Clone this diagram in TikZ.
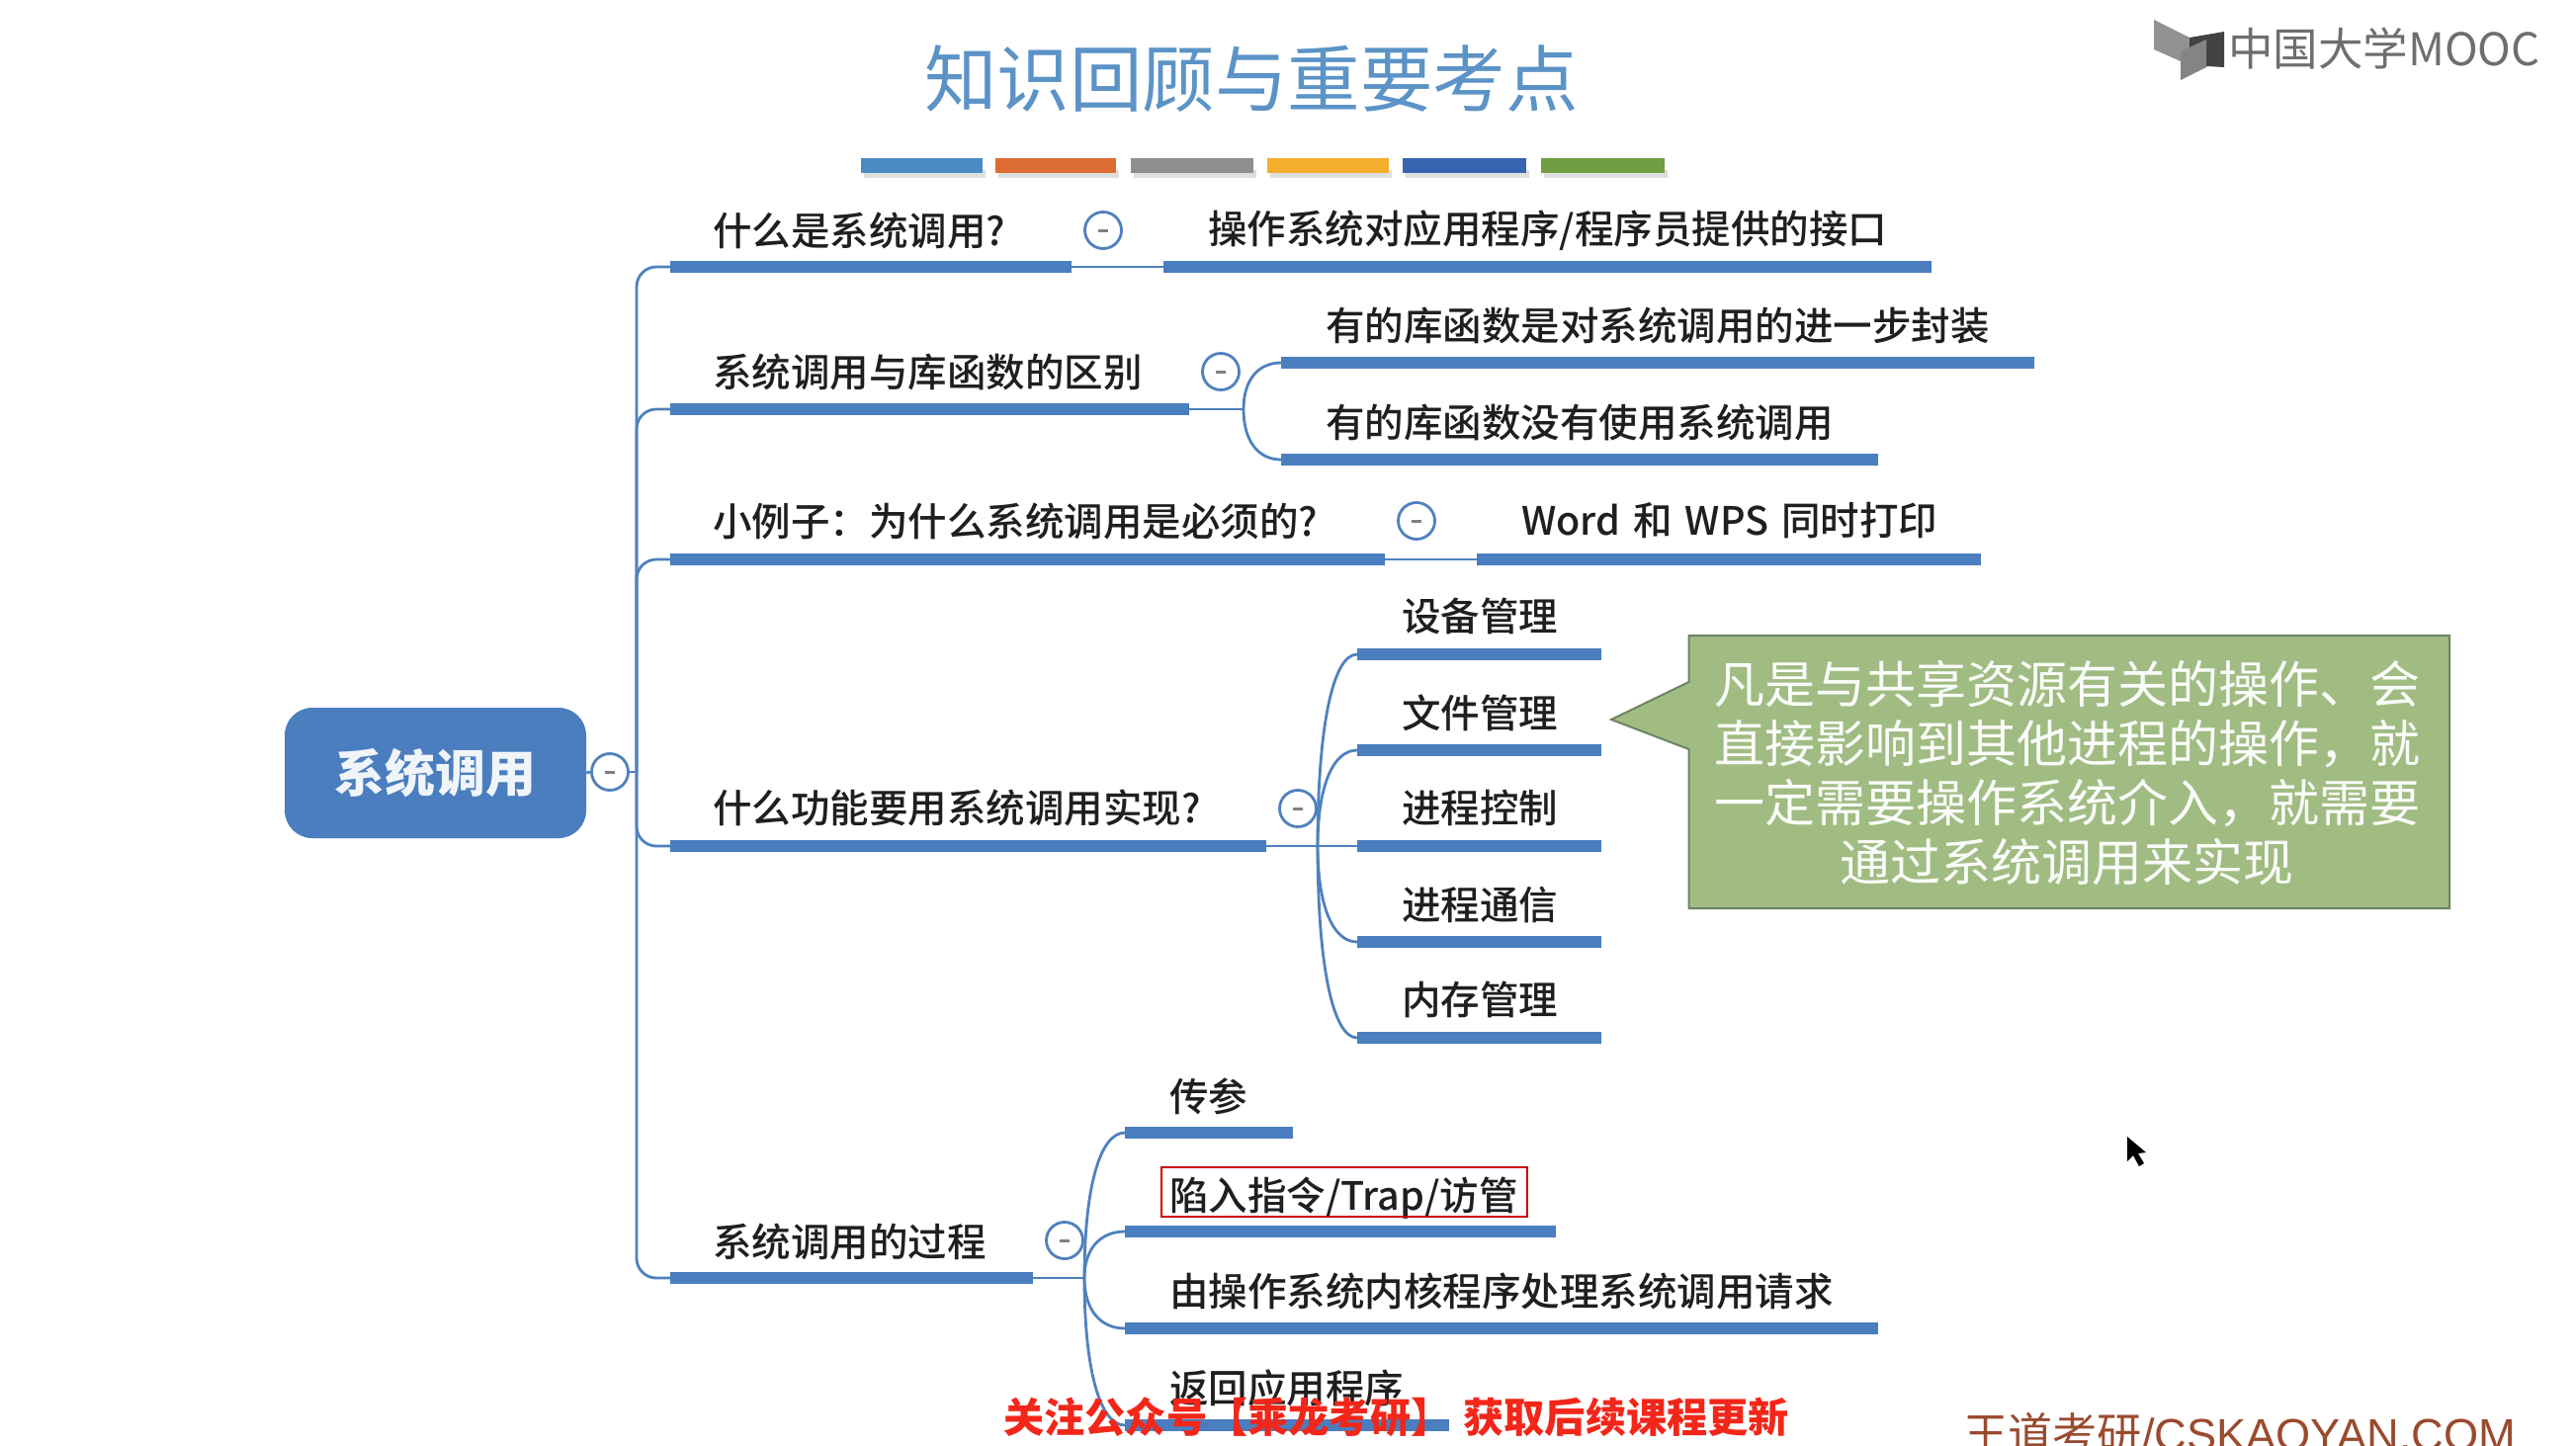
\documentclass[tikz,border=0pt]{standalone}
\usepackage{fontspec}
\usetikzlibrary{calc}
\setmainfont{Noto Sans CJK SC}
\newfontfamily\medfont{Noto Sans CJK SC Medium}
\newfontfamily\wmfont{Liberation Sans}
\definecolor{mapblue}{HTML}{4F81BD}
\definecolor{barblue}{HTML}{4A7EBF}
\definecolor{titleblue}{HTML}{5B93C7}
\definecolor{calloutgreen}{HTML}{A0BC82}
\definecolor{calloutedge}{HTML}{6C8560}
\definecolor{wmbrown}{HTML}{9A4A2E}
\definecolor{wmred}{HTML}{F3261A}
\definecolor{logogrey}{HTML}{6E6E6E}
\definecolor{st1}{HTML}{4A8BC6}
\definecolor{st2}{HTML}{DD6D32}
\definecolor{st3}{HTML}{8F8F8F}
\definecolor{st4}{HTML}{F3AE2B}
\definecolor{st5}{HTML}{3763AF}
\definecolor{st6}{HTML}{6F9F42}
\tikzset{
  under/.style={fill=barblue,draw=none,inner sep=0pt,minimum height=12pt,anchor=west,rectangle},
  conn/.style={draw=mapblue,line width=2.8pt},
  lbl/.style={inner sep=0pt,anchor=west,text=black!88,font=\medfont\fontsize{39.5}{44}\selectfont},
  fold/.style={circle,draw=mapblue,line width=2.8pt,fill=white,minimum size=37pt,inner sep=0pt,
    path picture={\fill[gray] ([xshift=-5pt,yshift=-1.5pt]path picture bounding box.center) rectangle ([xshift=5pt,yshift=1.5pt]path picture bounding box.center);}},
  stripe/.style={inner sep=0pt,minimum height=15pt,rectangle,anchor=west},
}
\newcommand{\barnode}[4]{\pgfmathsetmacro{\barw}{#3-#2}\node[under,minimum width=\barw pt] (#1) at (#2,#4+1) {};}
\newcommand{\stripenode}[4]{\pgfmathsetmacro{\barw}{#3-#2}
  \fill[black,opacity=.13] (#2+3,172) rectangle (#3+3,180);
  \node[stripe,fill=#4,minimum width=\barw pt] (#1) at (#2,167.5) {};}
\newcommand{\forkto}[2]{\draw[conn] (#1) .. controls ($(#1)!0.62!(#1 |- #2.west)$) and ($(#2.west)!0.62!(#1 |- #2.west)$) .. (#2.west);}
\begin{document}
\begin{tikzpicture}[x=1pt,y=-1pt]
\useasboundingbox (0,0) rectangle (2606,1462);
\clip (0,0) rectangle (2606,1462);
\fill[white] (0,0) rectangle (2606,1462);
% title
\node[inner sep=0pt,text=titleblue,font=\fontsize{73.5}{80}\selectfont] (title) at (1266,80) {知识回顾与重要考点};
\stripenode{s1}{871}{994}{st1}
\stripenode{s2}{1007}{1129}{st2}
\stripenode{s3}{1144}{1268}{st3}
\stripenode{s4}{1282}{1405}{st4}
\stripenode{s5}{1419}{1544}{st5}
\stripenode{s6}{1559}{1684}{st6}
% logo
\fill[logogrey!75] (2179,20) -- (2215,38) -- (2215,66) -- (2179,50) -- cycle;
\fill[logogrey!60!black] (2215,38) -- (2250,32) -- (2250,68) -- (2215,66) -- cycle;
\fill[logogrey!85] (2206,52) -- (2232,40) -- (2232,68) -- (2206,81) -- cycle;
\node[inner sep=0pt,anchor=west,text=logogrey,font=\fontsize{45.5}{48}\selectfont] (logo) at (2254,49) {中国大学MOOC};
% root
\node[rectangle,rounded corners=28pt,fill=barblue,inner sep=0pt,minimum width=305pt,minimum height=132pt,text=white!92!barblue,font=\fontsize{51}{56}\selectfont\bfseries] (root) at (440.5,782) {\raisebox{-6pt}{系统调用}};
\node[fold] (c0) at (617,781) {};
\coordinate (trunk) at (644,781);
% level 1 bars
\barnode{u1}{678}{1084}{269}
\barnode{u2}{678}{1203}{413}
\barnode{u3}{678}{1401}{565}
\barnode{u4}{678}{1281}{855}
\barnode{u5}{678}{1045}{1292}
% level 2 bars
\barnode{a1}{1177}{1954}{269}
\barnode{b1}{1296}{2058}{366}
\barnode{b2}{1296}{1900}{464}
\barnode{c1}{1494}{2004}{565}
\barnode{d1}{1373}{1620}{661}
\barnode{d2}{1373}{1620}{758}
\barnode{d3}{1373}{1620}{855}
\barnode{d4}{1373}{1620}{952}
\barnode{d5}{1373}{1620}{1049}
\barnode{e1}{1138}{1308}{1145}
\barnode{e2}{1138}{1574}{1245}
\barnode{e3}{1138}{1900}{1343}
\barnode{e4}{1138}{1466}{1441}
% trunk connectors
\draw[conn] (root.east) -- (c0.west);
\draw[conn] (c0.east) -- (trunk);
\foreach \n in {u1,u2,u3,u4,u5}{
  \draw[conn,rounded corners=20pt] (trunk) |- (\n.west);
}
% links
\draw[conn] (u1.east) -- (a1.west);
\draw[conn] (u3.east) -- (c1.west);
\coordinate (f2) at (1258,414);
\draw[conn] (u2.east) -- (f2);
\forkto{f2}{b1}
\forkto{f2}{b2}
\coordinate (f4) at (1333,856);
\draw[conn] (u4.east) -- (d3.west);
\forkto{f4}{d1}
\forkto{f4}{d2}
\forkto{f4}{d4}
\forkto{f4}{d5}
\coordinate (f5) at (1097,1293);
\draw[conn] (u5.east) -- (f5);
\forkto{f5}{e1}
\forkto{f5}{e2}
\forkto{f5}{e3}
\forkto{f5}{e4}
% fold marks
\node[fold] (c1f) at (1116,233) {};
\node[fold] (c2f) at (1235,376) {};
\node[fold] (c3f) at (1433,527) {};
\node[fold] (c4f) at (1313,818) {};
\node[fold] (c5f) at (1077,1255) {};
% labels
\node[lbl] (t1) at (721,233) {什么是系统调用?};
\node[lbl] (t1a) at (1222,233) {操作系统对应用程序/程序员提供的接口};
\node[lbl] (t2) at (721,376) {系统调用与库函数的区别};
\node[lbl] (t2a) at (1341,329) {有的库函数是对系统调用的进一步封装};
\node[lbl] (t2b) at (1341,427) {有的库函数没有使用系统调用};
\node[lbl] (t3) at (721,527) {小例子：为什么系统调用是必须的?};
\node[lbl] (t3a) at (1539,527) {Word\hspace{13pt}和\hspace{13pt}WPS\hspace{13pt}同时打印};
\node[lbl] (t4) at (721,817) {什么功能要用系统调用实现?};
\node[lbl] (t4a) at (1418,623) {设备管理};
\node[lbl] (t4b) at (1418,721) {文件管理};
\node[lbl] (t4c) at (1418,817) {进程控制};
\node[lbl] (t4d) at (1418,916) {进程通信};
\node[lbl] (t4e) at (1418,1011) {内存管理};
\node[lbl] (t5) at (721,1256) {系统调用的过程};
\node[lbl] (t5a) at (1183,1109) {传参};
\node[lbl] (t5b) at (1183,1212) {陷入指令/Trap/访管};
\node[lbl] (t5c) at (1183,1306) {由操作系统内核程序处理系统调用请求};
\node[lbl] (t5d) at (1183,1404) {返回应用程序};
% red box
\draw[draw=red!80!black,line width=2pt] (1175,1181) rectangle (1545,1231);
% callout
\draw[fill=calloutgreen,draw=calloutedge,line width=2pt] (1708.5,643) -- (2478,643) -- (2478,919) -- (1708.5,919) -- (1708.5,758) -- (1630,728) -- (1708.5,690) -- cycle;
\node[inner sep=0pt,align=center,text=white!95!calloutgreen,font=\fontsize{51}{60}\selectfont] (note) at (2091,782) {凡是与共享资源有关的操作、会\\直接影响到其他进程的操作，就\\一定需要操作系统介入，就需要\\通过系统调用来实现};
% cursor
\fill[black] (2152,1150) -- (2152,1175) -- (2158,1169) -- (2164,1180) -- (2169,1177) -- (2163,1167) -- (2171,1166) -- cycle;
% watermarks
\node[inner sep=0pt,anchor=west,text=wmred,font=\medfont\bfseries\fontsize{41.2}{44}\selectfont] (wm1) at (1015,1434) {关注公众号【乘龙考研】\hspace{12pt}获取后续课程更新};
\node[inner sep=0pt,anchor=west,text=wmbrown,font=\wmfont\fontsize{45.2}{50}\selectfont] (wm2) at (1986,1450) {\fontspec{Noto Sans CJK SC}王道考研\wmfont/CSKAOYAN.COM};
\end{tikzpicture}
\end{document}
